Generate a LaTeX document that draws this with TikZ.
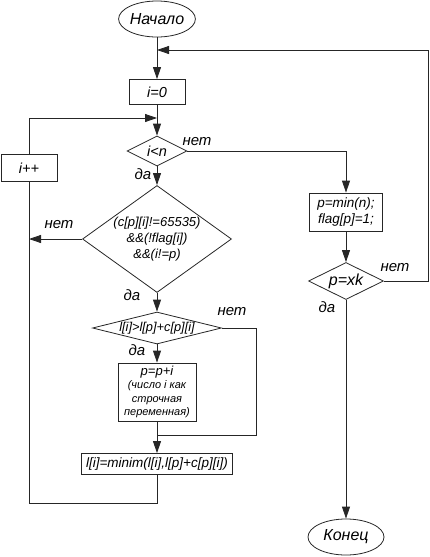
\documentclass[tikz,border=0pt]{standalone}
\usepackage{fontspec}
\setmainfont{Liberation Sans}
\usetikzlibrary{shapes.geometric,arrows.meta}
\begin{document}
\begin{tikzpicture}[x=1pt,y=-1pt,
  every node/.style={font=\itshape\fontsize{13.5}{15}\selectfont, inner sep=0pt},
  line/.style={draw=black!85, line width=0.8pt},
  arr/.style={line, -{Triangle[length=12pt,width=8pt]}},
  term/.style={ellipse, draw=black!85, line width=0.8pt, minimum width=76pt, minimum height=36pt,
      font=\itshape\fontsize{16}{18}\selectfont},
  proc/.style={rectangle, draw=black!85, line width=0.8pt, align=center},
  dec/.style={diamond, draw=black!85, line width=0.8pt, align=center},
  lbl/.style={font=\itshape\fontsize{15}{17}\selectfont}
]
\useasboundingbox (0,0) rectangle (430,557);

\node[term] (start) at (157,19) {Начало};
\node[proc, minimum width=56pt, minimum height=25pt, font=\itshape\fontsize{14.5}{16}\selectfont] (init) at (157,92) {i=0};
\node[dec, minimum width=60pt, minimum height=30pt, shape aspect=2, font=\itshape\fontsize{14.5}{16}\selectfont] (cond1) at (157,151) {i<n};
\node[proc, minimum width=56pt, minimum height=27pt, font=\itshape\fontsize{14.5}{16}\selectfont] (inc) at (29,168) {i++};
\node[dec, minimum width=149pt, minimum height=107pt, shape aspect=1.39,
      font=\itshape\fontsize{13}{16}\selectfont] (cond2) at (157,239)
      {(c[p][i]!=65535)\\\&\&(!flag[i])\\\&\&(i!=p)};
\node[dec, minimum width=129pt, minimum height=32pt, shape aspect=4,
      font=\itshape\fontsize{12.8}{14}\selectfont] (cond3) at (157,328) {l[i]>l[p]+c[p][i]};
\node[proc, minimum width=78pt, minimum height=58pt,
      font=\itshape\fontsize{11}{13.3}\selectfont] (upd) at (157,392)
      {{\fontsize{13}{13.3}\selectfont p=p+i}\\(число i как\\строчная\\переменная)};
\node[proc, minimum width=151pt, minimum height=21pt] (assign) at (157,464) {l[i]=minim(l[i],l[p]+c[p][i])};
\node[proc, minimum width=73pt, minimum height=38pt,
      font=\itshape\fontsize{13.5}{16}\selectfont] (pmin) at (346,212) {p=min(n);\\flag[p]=1;};
\node[dec, minimum width=75pt, minimum height=37pt, shape aspect=2,
      font=\itshape\fontsize{16}{18}\selectfont] (cond4) at (346,281) {p=xk};
\node[term] (end) at (346,537) {Конец};

\coordinate (top) at (157,50);
\coordinate (loop) at (157,118);
\coordinate (c3r) at (256,435);
\coordinate (j3) at (157,435);
\coordinate (bl) at (29,503);
\coordinate (rt) at (428,50);

\draw[arr] (start) -- (init);
\draw[arr] (init) -- (cond1);
\draw[arr] (cond1) -- (cond2);
\draw[arr] (cond1.east) -| (pmin.north);
\draw[arr] (cond2.west) -- (inc.south |- cond2.west);
\draw[arr] (cond2) -- (cond3);
\draw[arr] (cond3) -- (upd);
\draw[line] (cond3.east) -| (c3r) -- (j3);
\draw[arr] (upd) -- (assign);
\draw[line] (assign.south) |- (bl) -- (inc.south);
\draw[arr] (inc.north) |- (loop);
\draw[arr] (pmin) -- (cond4);
\draw[arr] (cond4) -- (end);
\draw[arr] (cond4.east) -| (rt) -- (top);

\node[lbl] (n1) at (197,142) {нет};
\node[lbl] (d1) at (143,174) {да};
\node[lbl] (n2) at (59,225) {нет};
\node[lbl] (d2) at (132,295) {да};
\node[lbl] (n3) at (232,312) {нет};
\node[lbl] (d3) at (137,350) {да};
\node[lbl] (n4) at (395,268) {нет};
\node[lbl] (d4) at (327,307) {да};
\end{tikzpicture}
\end{document}
